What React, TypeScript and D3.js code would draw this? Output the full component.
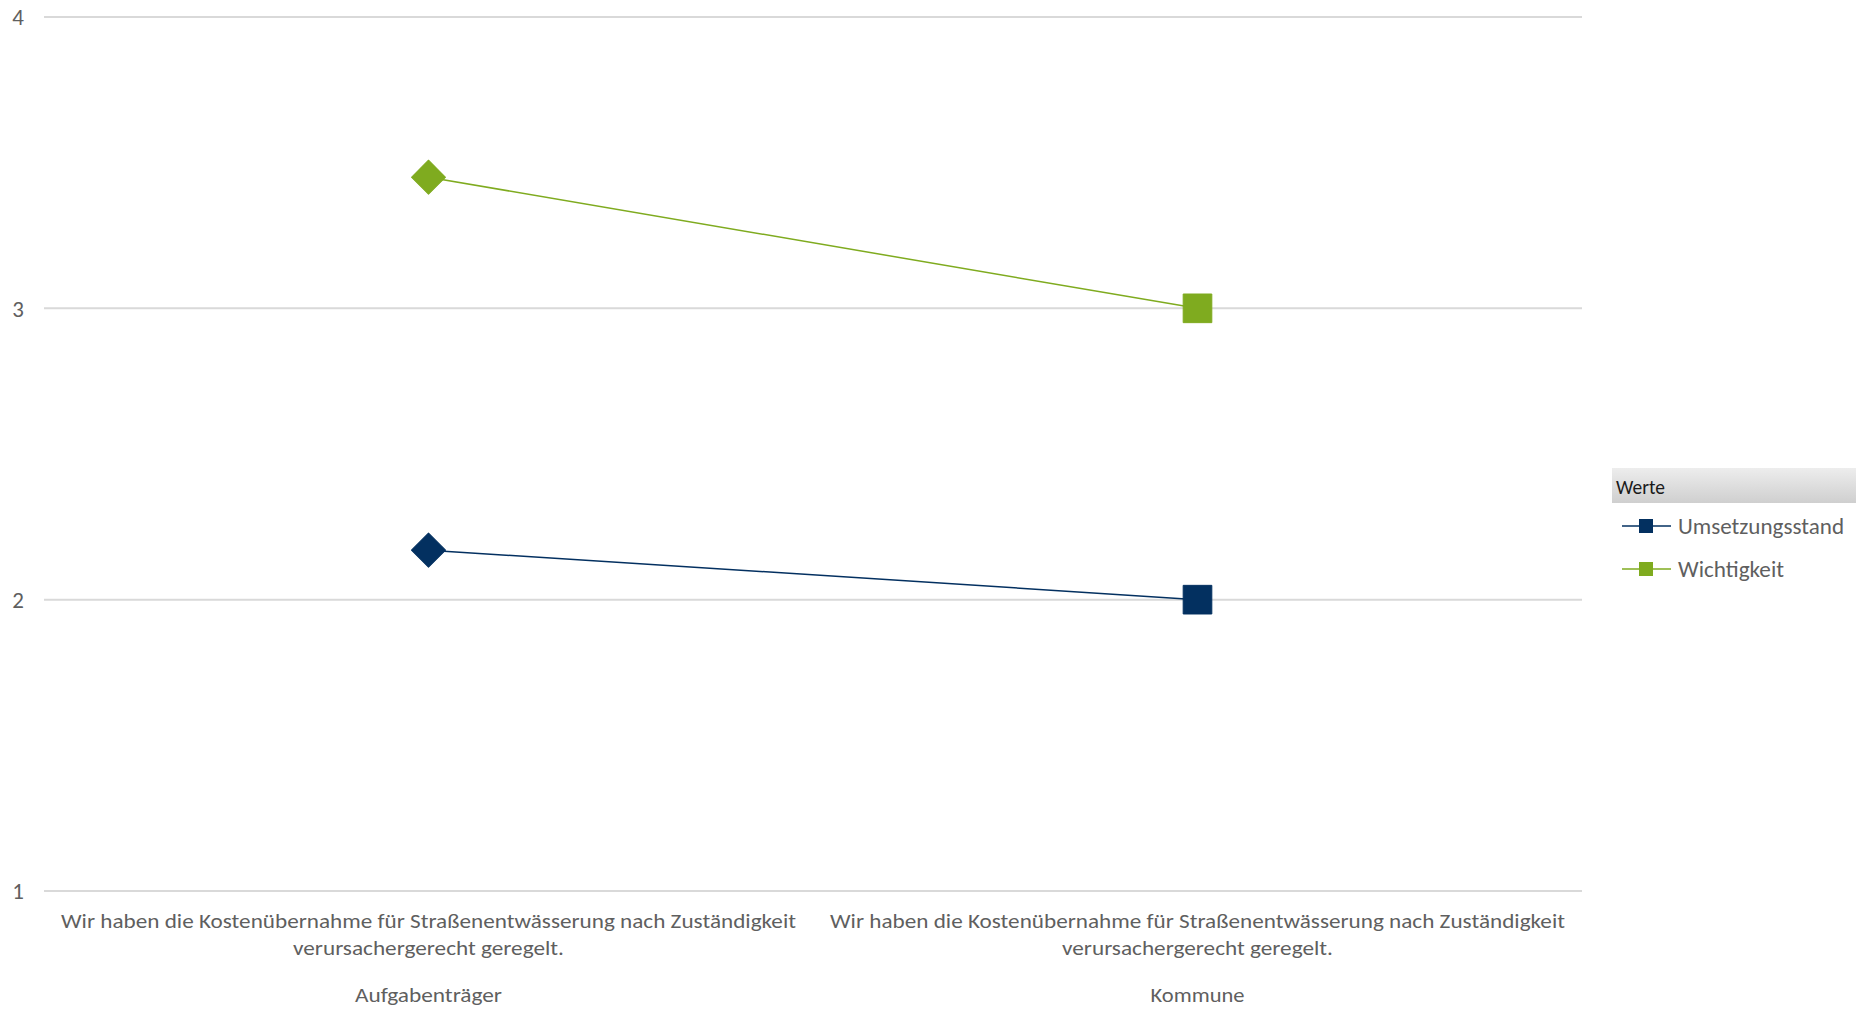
import React from "react";
import * as d3 from "d3";

const categories = ["Aufgabenträger", "Kommune"];
const itemLine1 = "Wir haben die Kostenübernahme für Straßenentwässerung nach Zuständigkeit";
const itemLine2 = "verursachergerecht geregelt.";
const umsetzungsstand = [2.17, 2.0];
const wichtigkeit = [3.45, 3.0];
const pointShapes = ["diamond", "square"];
const yTicks = [1, 2, 3, 4];
const legendTitle = "Werte";
const seriesNames = ["Umsetzungsstand", "Wichtigkeit"];

const NAVY = "#033060";
const GREEN = "#7FAB1F";
const TEXT = "#5f5f5f";
const FONT = "Carlito, 'Liberation Sans Narrow', 'Liberation Sans', Arial, sans-serif";

export default function App() {
  const W = 1860, H = 1010;
  const x0 = 44, x1 = 1582;
  const x = d3.scalePoint<string>().domain(categories).range([x0, x1]).padding(0.5);
  const y = d3.scaleLinear().domain([1, 4]).range([891, 17]);
  const line = d3.line<[number, number]>().x(d => d[0]).y(d => d[1]);

  const series = [
    { name: seriesNames[0], values: umsetzungsstand, color: NAVY },
    { name: seriesNames[1], values: wichtigkeit, color: GREEN },
  ];

  const diamond = d3.symbol().type(d3.symbolSquare).size(580)();
  const square = d3.symbol().type(d3.symbolSquare).size(820)();
  const legendSquare = d3.symbol().type(d3.symbolSquare).size(196)();

  return (
    <svg width={W} height={H} style={{ position: "absolute", left: 0, top: 0, background: "#fff" }} fontFamily={FONT}>
      <defs>
        <linearGradient id="lg" x1="0" y1="0" x2="0" y2="1">
          <stop offset="0" stopColor="#ededed" />
          <stop offset="1" stopColor="#cfcfcf" />
        </linearGradient>
      </defs>
      {yTicks.map(t => (
        <g key={t}>
          <line x1={x0} x2={x1} y1={y(t)} y2={y(t)} stroke="#d9d9d9" strokeWidth={2} />
          <text x={24} y={y(t)} dy="0.36em" textAnchor="end" fontSize={23} fill={TEXT}>{t}</text>
        </g>
      ))}
      {categories.map(c => (
        <g key={c}>
          <text x={x(c)} y={928} textAnchor="middle" fontSize={21} fill={TEXT} textLength={735} lengthAdjust="spacingAndGlyphs">{itemLine1}</text>
          <text x={x(c)} y={955} textAnchor="middle" fontSize={21} fill={TEXT} textLength={271} lengthAdjust="spacingAndGlyphs">{itemLine2}</text>
          <text x={x(c)} y={1002} textAnchor="middle" fontSize={21} fill={TEXT}
            textLength={c === categories[0] ? 147 : 94} lengthAdjust="spacingAndGlyphs">{c}</text>
        </g>
      ))}
      {series.map(s => {
        const pts: [number, number][] = categories.map((c, i) => [x(c)!, y(s.values[i])]);
        return (
          <g key={s.name}>
            <path d={line(pts)!} fill="none" stroke={s.color} strokeWidth={1.5} />
            {pts.map((p, i) => (
              <path key={i} d={pointShapes[i] === "diamond" ? diamond! : square!}
                transform={`translate(${p[0]},${p[1]})${pointShapes[i] === "diamond" ? " rotate(45)" : ""}`}
                fill={s.color} stroke={s.color} strokeWidth={1} strokeLinejoin="round" />
            ))}
          </g>
        );
      })}
      <g>
        <rect x={1612} y={468} width={244} height={35} fill="url(#lg)" />
        <text x={1616} y={494} fontSize={20} fill="#1a1a1a" textLength={49} lengthAdjust="spacingAndGlyphs">{legendTitle}</text>
        {series.map((s, i) => {
          const cy = 526 + i * 43;
          return (
            <g key={s.name}>
              <line x1={1622} x2={1671} y1={cy} y2={cy} stroke={s.color} strokeWidth={1.5} />
              <path d={legendSquare!} transform={`translate(1646,${cy})`} fill={s.color} />
              <text x={1678} y={cy} dy="0.35em" fontSize={22} fill={TEXT}
                textLength={i === 0 ? 166 : 106} lengthAdjust="spacingAndGlyphs">{s.name}</text>
            </g>
          );
        })}
      </g>
    </svg>
  );
}
